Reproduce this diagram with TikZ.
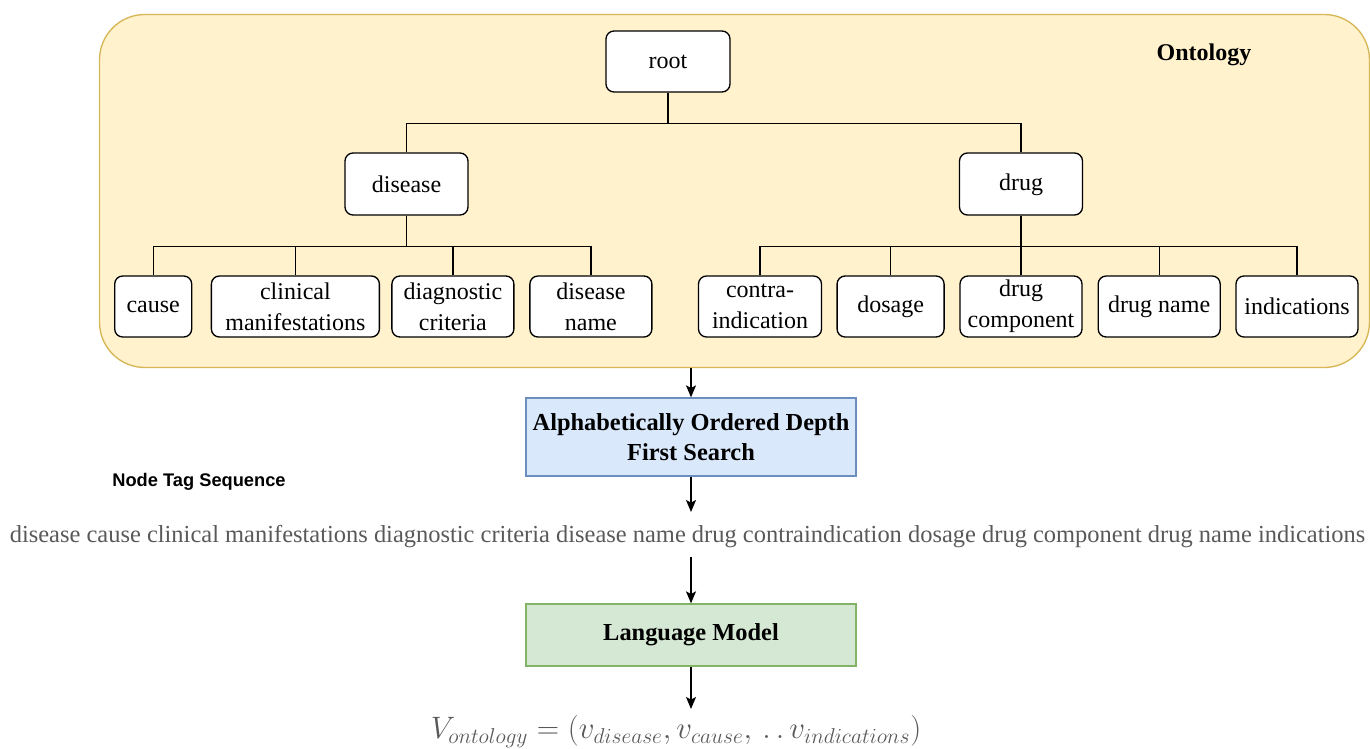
\documentclass[tikz,border=0pt]{standalone}
\usepackage{graphicx}
\usepackage{fontspec}
\setmainfont{Liberation Serif}
\newfontfamily\arialfont{Liberation Sans}
\usetikzlibrary{arrows.meta}
\definecolor{ontfill}{HTML}{FFF2CC}
\definecolor{ontdraw}{HTML}{D6B656}
\definecolor{bluefill}{HTML}{DAE8FC}
\definecolor{bluedraw}{HTML}{6C8EBF}
\definecolor{greenfill}{HTML}{D5E8D4}
\definecolor{greendraw}{HTML}{82B366}
\definecolor{seqgray}{HTML}{595959}
\tikzset{
  sz/.style 2 args={minimum width=#1*0.75pt, minimum height=#2*0.75pt},
  box/.style={draw=black, fill=white, rounded corners=6pt, line width=1pt, align=center, inner sep=0pt,
    font=\fontsize{18}{23}\selectfont},
  tree/.style={draw=black, line width=1pt},
  arr/.style={draw=black, line width=1pt, -{Stealth[length=9pt,width=7.5pt,inset=2pt]}},
  procbox/.style={line width=1pt, align=center, inner sep=0pt, font=\fontsize{18.3}{23}\selectfont\bfseries},
}
\begin{document}
\begin{tikzpicture}[x=0.75pt,y=-0.75pt]
\useasboundingbox (0,0) rectangle (1370,749);
% container
\node[draw=ontdraw, fill=ontfill, line width=1pt, rounded corners=34pt, sz={1270}{353}, inner sep=0pt] (ont) at (734.5,191) {};
\node[font=\fontsize{18}{23}\selectfont\bfseries] (ontlabel) at (1204,55) {Ontology};
% tree nodes
\node[box, sz={124}{61}] (root) at (668,61.5) {root};
\node[box, sz={123}{62}] (disease) at (406.5,184) {disease};
\node[box, sz={123}{62}] (drug) at (1021,184) {drug\strut};
\node[box, sz={77}{61}] (cause) at (153.2,306.5) {cause};
\node[box, sz={168}{61}] (clin) at (295.4,306.5) {clinical\\manifestations};
\node[box, sz={122}{61}] (diag) at (452.9,306.5) {diagnostic\\criteria};
\node[box, sz={122}{61}] (dname) at (590.9,306.5) {disease\\name};
\node[box, sz={123}{61}] (contra) at (760,306.5) {contra-\\indication};
\node[box, sz={107}{61}] (dosage) at (890.6,306.5) {dosage\strut};
\node[box, sz={122}{61}] (dcomp) at (1021,306.5) {drug\\component};
\node[box, sz={122}{61}] (drname) at (1159.2,306.5) {drug name\strut};
\node[box, sz={122}{61}] (ind) at (1297,306.5) {indications};
% tree edges
\draw[tree] (root.south) -- ++(0,31) -| (disease.north);
\draw[tree] (root.south) -- ++(0,31) -| (drug.north);
\foreach \c in {cause,clin,diag,dname}{\draw[tree] (disease.south) -- ++(0,31) -| (\c.north);}
\foreach \c in {contra,dosage,dcomp,drname,ind}{\draw[tree] (drug.south) -- ++(0,31) -| (\c.north);}
% process boxes
\node[procbox, draw=bluedraw, fill=bluefill, sz={330}{78}] (dfs) at (691,437) {Alphabetically Ordered Depth\\First Search};
\node[font=\arialfont\fontsize{13.7}{16}\selectfont\bfseries] (ntlabel) at (199,482) {Node Tag Sequence};
\node[text=seqgray, font=\fontsize{18.35}{23}\selectfont, inner sep=0pt] (seq) at (687.5,537) {disease cause clinical manifestations diagnostic criteria disease name drug contraindication dosage drug component drug name indications};
\node[procbox, draw=greendraw, fill=greenfill, sz={330}{62}] (lm) at (691,635) {Language Model};
\node[text=seqgray, inner sep=0pt, font=\fontsize{20}{24}\selectfont] (vec) at (676,731.5) {\scalebox{1.12}{$V_{ontology}=(v_{disease},v_{cause},\,.\,.\,v_{indications})$}};
% arrows
\coordinate (a2end) at (691,512);
\coordinate (a3start) at (691,557);
\coordinate (a4end) at (691,709);
\draw[arr] (ont.south -| dfs.north) -- (dfs.north);
\draw[arr] (dfs.south) -- (a2end);
\draw[arr] (a3start) -- (lm.north);
\draw[arr] (lm.south) -- (a4end);
\end{tikzpicture}
\end{document}
